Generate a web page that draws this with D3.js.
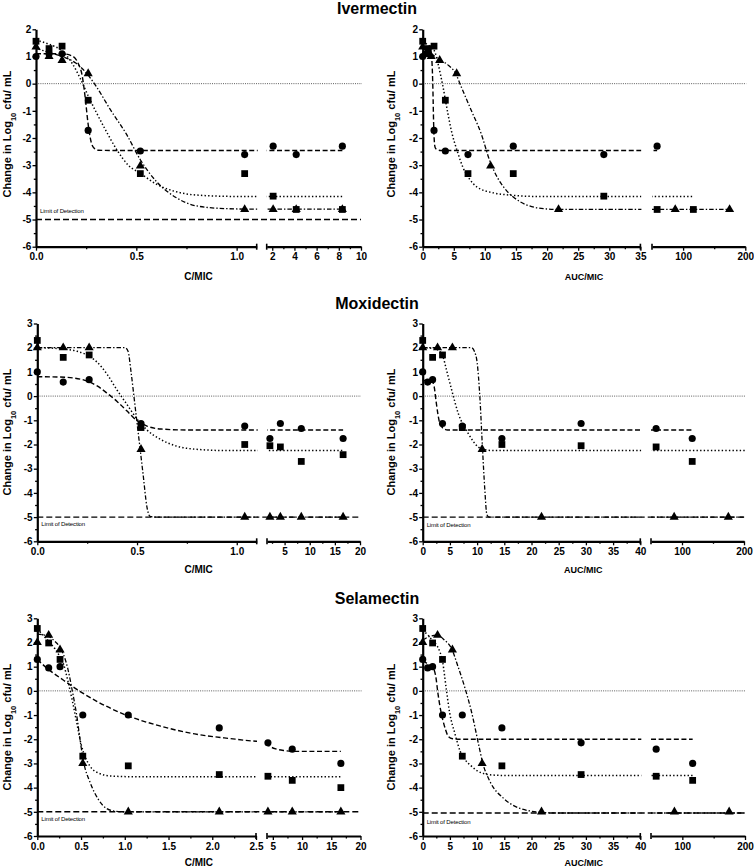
<!DOCTYPE html>
<html>
<head>
<meta charset="utf-8">
<script src="https://cdn.jsdelivr.net/npm/d3@7"></script>
<style>
  body { margin: 0; background: #fff; }
</style>
</head>
<body>
<div id="chart"></div>
<script>
// ---------- values ----------
const drugNames = ["Ivermectin", "Moxidectin", "Selamectin"];

// Ivermectin: x values, y values (Change in Log10 cfu/mL)
const ivCmic = [0, 0.065, 0.13, 0.26, 0.52, 1.04, 2.08, 4.16, 8.32];
const ivAucCircle = [0, 0.46, 0.91, 1.82, 3.64, 7.28, 14.56, 29.12, 58.24];
const ivAucSquare = [0, 0.91, 1.82, 3.64, 7.28, 14.56, 29.12, 58.24, 116.48];
const ivAucTriangle = [0, 1.37, 2.73, 5.46, 10.92, 21.84, 43.68, 87.36, 174.72];
const ivCircle = [1.0, 1.1, 1.1, -1.72, -2.48, -2.61, -2.3, -2.61, -2.3];
const ivSquare = [1.56, 1.29, 1.38, -0.61, -3.31, -3.31, -4.14, -4.63, -4.63];
const ivTriangle = [1.35, 1.0, 0.86, 0.37, -3.03, -4.63, -4.63, -4.63, -4.63];

// Moxidectin / Selamectin share the same exposures
const cmic = [0, 0.13, 0.26, 0.52, 1.04, 2.08, 4.16, 8.32, 16.64];
const aucCircle = [0, 0.91, 1.82, 3.64, 7.28, 14.56, 29.12, 58.24, 116.48];
const aucSquare = [0, 1.82, 3.64, 7.28, 14.56, 29.12, 58.24, 116.48, 232.96];
const aucTriangle = [0, 2.73, 5.46, 10.92, 21.84, 43.68, 87.36, 174.72, 349.44];

const moxCircle = [1.0, 0.58, 0.68, -1.13, -1.24, -1.75, -1.13, -1.34, -1.75];
const moxSquare = [2.3, 1.6, 1.7, -1.3, -2.0, -2.05, -2.1, -2.7, -2.42];
const moxTriangle = [2.0, 2.0, 2.0, -2.2, -5.0, -5.0, -5.0, -5.0, -5.0];

const selCircle = [1.3, 0.95, 1.0, -1.0, -1.0, -1.53, -2.15, -2.41, -3.0];
const selSquare = [2.58, 1.98, 1.3, -2.7, -3.1, -3.46, -3.53, -3.7, -4.0];
const selTriangle = [2.0, 2.3, 1.7, -3.0, -5.0, -5.0, -5.0, -5.0, -5.0];

// fitted curves, knots [x, y]
const ivCFitCircle = [[0,1.1],[0.13,1.1],[0.18,1.02],[0.21,0.75],[0.23,0.3],[0.245,-0.5],[0.26,-1.5],[0.275,-2.15],[0.29,-2.38],[0.31,-2.45],[0.4,-2.46],[8.32,-2.46]];
const ivCFitSquare = [[0,1.6],[0.065,1.45],[0.13,1.2],[0.18,0.75],[0.22,0.2],[0.26,-0.45],[0.3,-1.05],[0.35,-1.75],[0.4,-2.4],[0.46,-3.0],[0.52,-3.3],[0.6,-3.7],[0.7,-3.98],[0.8,-4.1],[1.0,-4.15],[8.32,-4.15]];
const ivCFitTriangle = [[0,1.3],[0.065,1.15],[0.13,1.0],[0.2,0.75],[0.25,0.4],[0.3,-0.1],[0.37,-0.95],[0.45,-1.85],[0.52,-2.8],[0.6,-3.6],[0.7,-4.2],[0.8,-4.5],[0.95,-4.6],[1.1,-4.62],[8.32,-4.62]];
const ivAucFitCircle = [[0,1.15],[1.0,1.12],[1.4,1.0],[1.55,0.5],[1.65,-0.3],[1.75,-1.4],[1.85,-2.05],[2.0,-2.35],[2.3,-2.43],[3.0,-2.46],[58.24,-2.46]];
const ivAucFitSquare = [[0,1.55],[1.0,1.4],[1.9,1.2],[2.45,0.75],[3.25,-0.1],[4.05,-1.1],[4.6,-1.72],[5.65,-2.55],[6.5,-3.1],[7.5,-3.5],[8.7,-3.8],[11.4,-4.02],[14,-4.1],[18,-4.15],[116.48,-4.15]];
const ivAucFitTriangle = [[0,1.3],[1.37,1.1],[2.73,0.88],[4.0,0.7],[5.3,0.37],[6.2,-0.12],[7.8,-0.98],[9.4,-1.84],[10.8,-2.85],[12,-3.45],[13,-3.8],[15.7,-4.35],[19.4,-4.6],[22,-4.63],[174.72,-4.63]];

const moxCFitCircle = [[0,0.8],[0.1,0.79],[0.18,0.75],[0.25,0.62],[0.3,0.42],[0.35,0.12],[0.4,-0.22],[0.45,-0.62],[0.5,-1.02],[0.55,-1.24],[0.62,-1.36],[0.75,-1.4],[16.64,-1.4]];
const moxCFitSquare = [[0,2.0],[0.1,1.97],[0.2,1.85],[0.26,1.65],[0.3,1.4],[0.35,0.9],[0.4,0.25],[0.45,-0.35],[0.5,-0.95],[0.55,-1.4],[0.62,-1.8],[0.7,-2.07],[0.8,-2.2],[0.95,-2.25],[16.64,-2.25]];
const moxCFitTriangle = [[0,2.0],[0.44,2.0],[0.455,1.85],[0.47,1.0],[0.49,-0.4],[0.51,-1.8],[0.53,-3.2],[0.55,-4.6],[0.565,-4.97],[0.6,-5.0],[16.64,-5.0]];
const moxAucFitCircle = [[0,0.65],[1.0,0.65],[1.8,0.6],[2.1,0.4],[2.5,-0.28],[2.8,-0.75],[3.1,-1.1],[3.6,-1.3],[4.6,-1.4],[6,-1.4],[116.48,-1.4]];
const moxAucFitSquare = [[0,2.0],[2.0,1.97],[2.8,1.9],[3.7,1.65],[4.35,1.1],[5.3,0.28],[6.5,-0.69],[8.3,-1.52],[10.2,-2.1],[11.5,-2.22],[13,-2.25],[232.96,-2.25]];
const moxAucFitTriangle = [[0,2.0],[9.0,2.0],[9.5,1.85],[10.0,1.4],[10.5,0],[11.0,-2.2],[11.4,-3.8],[11.8,-4.9],[12.2,-5.0],[349.44,-5.0]];

const selCFitCircle = [[0,1.3],[0.1,0.97],[0.3,0.44],[0.5,-0.05],[0.7,-0.47],[1.0,-0.98],[1.4,-1.45],[1.8,-1.78],[2.2,-1.97],[2.5,-2.08],[4.0,-2.22],[4.5,-2.3],[5.5,-2.4],[7,-2.47],[8.32,-2.5],[16.64,-2.5]];
const selCFitSquare = [[0,2.55],[0.13,2.05],[0.2,1.75],[0.26,1.4],[0.3,1.1],[0.35,0.4],[0.4,-0.4],[0.45,-1.3],[0.5,-2.2],[0.55,-2.75],[0.6,-3.1],[0.7,-3.4],[0.85,-3.52],[1.1,-3.55],[16.64,-3.55]];
const selCFitTriangle = [[0,2.35],[0.13,2.25],[0.2,2.05],[0.26,1.8],[0.3,1.5],[0.35,0.9],[0.4,0.0],[0.45,-1.0],[0.5,-2.3],[0.53,-2.95],[0.6,-3.75],[0.7,-4.5],[0.8,-4.88],[0.9,-4.98],[1.0,-5.0],[16.64,-5.0]];
const selAucFitCircle = [[0,1.25],[1.0,1.1],[1.9,0.95],[2.4,0.6],[2.8,-0.1],[3.3,-0.8],[3.75,-1.25],[4.2,-1.6],[4.7,-1.88],[5.5,-1.98],[6.5,-2.0],[116.48,-2.0]];
const selAucFitSquare = [[0,2.5],[1.0,2.3],[1.9,2.05],[2.8,1.8],[3.7,1.15],[4.35,0.05],[4.95,-0.9],[5.9,-1.75],[6.9,-2.5],[7.8,-2.85],[8.75,-3.07],[10,-3.3],[11.2,-3.42],[13.7,-3.49],[16,-3.5],[116.48,-3.5]];
const selAucFitTriangle = [[0,2.1],[1.3,2.25],[2.7,2.3],[4.0,2.1],[5.3,1.75],[6.5,1.0],[7.7,0.17],[8.9,-0.8],[10.5,-2.45],[11.0,-2.95],[12.4,-3.76],[14.9,-4.45],[17.9,-4.86],[21.8,-5.02],[25,-5.05],[349.44,-5.05]];

// tick values
const yTicks2 = [-6, -5, -4, -3, -2, -1, 0, 1, 2];
const yMinor2 = [-5.5, -4.5, -3.5, -2.5, -1.5, -0.5, 0.5, 1.5];
const yTicks3 = [-6, -5, -4, -3, -2, -1, 0, 1, 2, 3];
const yMinor3 = [-5.5, -4.5, -3.5, -2.5, -1.5, -0.5, 0.5, 1.5, 2.5];
const cTicksShort = [0, 0.5, 1.0], cMinorShort = [0.25, 0.75];
const cTicksLong = [0, 0.5, 1.0, 1.5, 2.0, 2.5], cMinorLong = [0.25, 0.75, 1.25, 1.75, 2.25];
const ivHighTicks = [2, 4, 6, 8, 10], ivHighMinor = [3, 5, 7, 9];
const highTicks = [5, 10, 15, 20], moxHighMinor = [2.5, 7.5, 12.5, 17.5], selHighMinor = [7.5, 12.5, 17.5];
const aucTicks35 = [0, 5, 10, 15, 20, 25, 30, 35], aucMinor35 = [2.5, 7.5, 12.5, 17.5, 22.5, 27.5, 32.5];
const aucTicks40 = [0, 5, 10, 15, 20, 25, 30, 35, 40], aucMinor40 = [2.5, 7.5, 12.5, 17.5, 22.5, 27.5, 32.5, 37.5];
const aucHighTicks = [100, 200], aucHighMinor = [150];
const lodValue = -5;

// ---------- drawing ----------
const FONT = '"Liberation Sans", Arial, Helvetica, sans-serif';
const width = 754, height = 868;

const svg = d3.select("#chart").append("svg")
  .attr("width", width)
  .attr("height", height)
  .style("font-family", FONT);

const fmt1 = d => d.toFixed(1);
const fmtInt = d => String(d);

const lineStyle = {
  circle: { dash: "5,2.6", w: 1.4 },
  square: { dash: "1.4,2.2", w: 1.5 },
  triangle: { dash: "4.5,2,1.4,2", w: 1.3 }
};
const symbols = {
  circle: d3.symbol(d3.symbolCircle, 40),
  square: d3.symbol(d3.symbolSquare, 46),
  triangle: d3.symbol(d3.symbolTriangle, 36)
};

const rows = [
  { title: drugNames[0], titleY: 14, yDomain: [-6, 2], yRange: [246.7, 29.3], yTicks: yTicks2, yMinor: yMinor2, xTitleY: 279.5, yTitleY: 134 },
  { title: drugNames[1], titleY: 308.5, yDomain: [-6, 3], yRange: [541.3, 323.5], yTicks: yTicks3, yMinor: yMinor3, xTitleY: 572.5, yTitleY: 432 },
  { title: drugNames[2], titleY: 603.5, yDomain: [-6, 3], yRange: [836, 618.3], yTicks: yTicks3, yMinor: yMinor3, xTitleY: 865.5, yTitleY: 727 }
];

const panels = [
  { row: 0, axisX: 36, xTitle: "C/MIC", xTitleSize: 10, yTitleX: 11, lod: true, lodDy: -6.5,
    seg1: { domain: [0, 1.1], range: [36, 256.7], major: cTicksShort, minor: cMinorShort, fmt: fmt1 },
    seg2: { domain: [1.5, 10], range: [266.7, 361], major: ivHighTicks, minor: ivHighMinor, fmt: fmtInt },
    series: [
      { shape: "circle", x: ivCmic, y: ivCircle, fit: ivCFitCircle },
      { shape: "triangle", x: ivCmic, y: ivTriangle, fit: ivCFitTriangle },
      { shape: "square", x: ivCmic, y: ivSquare, fit: ivCFitSquare }
    ] },
  { row: 0, axisX: 422.7, xTitle: "AUC/MIC", xTitleSize: 9, yTitleX: 395, lod: false,
    seg1: { domain: [0, 35], range: [422.7, 640.4], major: aucTicks35, minor: aucMinor35, fmt: fmtInt },
    seg2: { domain: [50, 200], range: [652, 745.3], major: aucHighTicks, minor: aucHighMinor, fmt: fmtInt },
    series: [
      { shape: "circle", x: ivAucCircle, y: ivCircle, fit: ivAucFitCircle },
      { shape: "triangle", x: ivAucTriangle, y: ivTriangle, fit: ivAucFitTriangle },
      { shape: "square", x: ivAucSquare, y: ivSquare, fit: ivAucFitSquare }
    ] },
  { row: 1, axisX: 37.3, xTitle: "C/MIC", xTitleSize: 10, yTitleX: 11, lod: true, lodDy: 9,
    seg1: { domain: [0, 1.1], range: [37.3, 256.7], major: cTicksShort, minor: cMinorShort, fmt: fmt1 },
    seg2: { domain: [1.5, 20], range: [267, 360], major: highTicks, minor: moxHighMinor, fmt: fmtInt },
    series: [
      { shape: "circle", x: cmic, y: moxCircle, fit: moxCFitCircle },
      { shape: "triangle", x: cmic, y: moxTriangle, fit: moxCFitTriangle },
      { shape: "square", x: cmic, y: moxSquare, fit: moxCFitSquare }
    ] },
  { row: 1, axisX: 422.7, xTitle: "AUC/MIC", xTitleSize: 9, yTitleX: 395, lod: true, lodDy: 9.5,
    seg1: { domain: [0, 40], range: [422.7, 640.3], major: aucTicks40, minor: aucMinor40, fmt: fmtInt },
    seg2: { domain: [50, 200], range: [651, 744], major: aucHighTicks, minor: aucHighMinor, fmt: fmtInt },
    series: [
      { shape: "circle", x: aucCircle, y: moxCircle, fit: moxAucFitCircle },
      { shape: "triangle", x: aucTriangle, y: moxTriangle, fit: moxAucFitTriangle },
      { shape: "square", x: aucSquare, y: moxSquare, fit: moxAucFitSquare }
    ] },
  { row: 2, axisX: 37.3, xTitle: "C/MIC", xTitleSize: 10, yTitleX: 11, lod: true, lodDy: 9.5,
    seg1: { domain: [0, 2.5], range: [37.3, 256], major: cTicksLong, minor: cMinorLong, fmt: fmt1 },
    seg2: { domain: [4, 20], range: [267, 360.5], major: highTicks, minor: selHighMinor, fmt: fmtInt },
    series: [
      { shape: "circle", x: cmic, y: selCircle, fit: selCFitCircle },
      { shape: "triangle", x: cmic, y: selTriangle, fit: selCFitTriangle },
      { shape: "square", x: cmic, y: selSquare, fit: selCFitSquare }
    ] },
  { row: 2, axisX: 422.7, xTitle: "AUC/MIC", xTitleSize: 9, yTitleX: 395, lod: true, lodDy: 10.5,
    seg1: { domain: [0, 40], range: [422.7, 640.3], major: aucTicks40, minor: aucMinor40, fmt: fmtInt },
    seg2: { domain: [50, 200], range: [651, 745], major: aucHighTicks, minor: aucHighMinor, fmt: fmtInt },
    series: [
      { shape: "circle", x: aucCircle, y: selCircle, fit: selAucFitCircle },
      { shape: "triangle", x: aucTriangle, y: selTriangle, fit: selAucFitTriangle },
      { shape: "square", x: aucSquare, y: selSquare, fit: selAucFitSquare }
    ] }
];

// drug titles
rows.forEach(r => {
  svg.append("text")
    .attr("x", 377).attr("y", r.titleY)
    .attr("text-anchor", "middle")
    .style("font-size", "16px").style("font-weight", "bold")
    .text(r.title);
});

function styleAxis(g, fontSize) {
  g.attr("font-family", null).attr("font-size", null);
  g.selectAll("text")
    .style("font-family", FONT)
    .style("font-size", fontSize + "px")
    .style("font-weight", "bold")
    .attr("fill", "#000");
  g.selectAll(".tick line").attr("stroke", "#000").attr("stroke-width", 1.3);
}

panels.forEach((p, pi) => {
  const r = rows[p.row];
  const y = d3.scaleLinear().domain(r.yDomain).range(r.yRange);
  const axisY = r.yRange[0];
  const segs = [p.seg1, p.seg2].map(s => Object.assign({}, s, {
    scale: d3.scaleLinear().domain(s.domain).range(s.range)
  }));
  const rightEnd = p.seg2.range[1];
  const g = svg.append("g");

  // zero reference line
  g.append("line")
    .attr("x1", p.axisX).attr("x2", rightEnd + 1)
    .attr("y1", y(0)).attr("y2", y(0))
    .attr("stroke", "#333").attr("stroke-width", 0.8)
    .attr("stroke-dasharray", "1,1.2");

  // limit of detection
  if (p.lod) {
    const lodY = y(pi === 5 ? lodValue - 0.05 : lodValue);
    g.append("line")
      .attr("x1", p.axisX).attr("x2", rightEnd)
      .attr("y1", lodY).attr("y2", lodY)
      .attr("stroke", "#000").attr("stroke-width", 1.4)
      .attr("stroke-dasharray", "6,3");
    g.append("text")
      .attr("x", p.axisX + 4).attr("y", lodY + p.lodDy)
      .style("font-size", "6px")
      .style("letter-spacing", "-0.15px")
      .text("Limit of Detection");
  }

  // y axis
  const ya = g.append("g").attr("transform", `translate(${p.axisX},0)`)
    .call(d3.axisLeft(y).tickValues(r.yTicks).tickSize(3.5).tickSizeOuter(0).tickPadding(1.2).tickFormat(fmtInt));
  styleAxis(ya, 10);
  ya.select(".domain").attr("stroke-width", 2.2);
  const ym = g.append("g").attr("transform", `translate(${p.axisX},0)`)
    .call(d3.axisLeft(y).tickValues(r.yMinor).tickSize(2.2).tickFormat(() => ""));
  ym.select(".domain").remove();
  ym.selectAll(".tick line").attr("stroke-width", 1.3);

  // broken x axis
  segs.forEach((s, si) => {
    const xa = g.append("g").attr("transform", `translate(0,${axisY})`)
      .call(d3.axisBottom(s.scale).tickValues(s.major).tickSize(4).tickSizeOuter(0).tickPadding(2.5).tickFormat(s.fmt));
    styleAxis(xa, 10);
    xa.select(".domain").attr("stroke-width", 2.2);
    const xm = g.append("g").attr("transform", `translate(0,${axisY})`)
      .call(d3.axisBottom(s.scale).tickValues(s.minor).tickSize(2.5).tickFormat(() => ""));
    xm.select(".domain").remove();
    xm.selectAll(".tick line").attr("stroke-width", 1.3);
    // break caps
    const capX = si === 0 ? s.range[1] : s.range[0];
    g.append("line")
      .attr("x1", capX).attr("x2", capX)
      .attr("y1", axisY - 3).attr("y2", axisY + 3)
      .attr("stroke", "#000").attr("stroke-width", 1.6);

    // clip for this segment
    svg.append("clipPath").attr("id", `clip-${pi}-${si}`)
      .append("rect")
      .attr("x", si === 0 ? p.axisX - 1 : s.range[0])
      .attr("y", 0)
      .attr("width", (s.range[1] - (si === 0 ? p.axisX - 1 : s.range[0])) + 1)
      .attr("height", height);
  });

  // fitted curves
  p.series.forEach(se => {
    segs.forEach((s, si) => {
      const line = d3.line()
        .x(d => s.scale(d[0]))
        .y(d => y(d[1]))
        .curve(d3.curveMonotoneX);
      g.append("path")
        .attr("clip-path", `url(#clip-${pi}-${si})`)
        .attr("d", line(se.fit))
        .attr("fill", "none")
        .attr("stroke", "#000")
        .attr("stroke-width", lineStyle[se.shape].w)
        .attr("stroke-dasharray", lineStyle[se.shape].dash);
    });
  });

  // data points
  p.series.forEach(se => {
    const pts = se.x.map((xv, i) => ({ x: xv, y: se.y[i] }))
      .map(d => {
        const s = segs.find(s => d.x >= s.domain[0] - 1e-9 && d.x <= s.domain[1] + 1e-9);
        return s ? { px: s.scale(d.x), py: y(d.y) } : null;
      })
      .filter(d => d);
    g.selectAll(null)
      .data(pts)
      .join("path")
      .attr("d", symbols[se.shape])
      .attr("transform", d => `translate(${d.px},${d.py})`)
      .attr("fill", "#000");
  });

  // axis titles
  const xMid = (p.axisX + rightEnd) / 2;
  g.append("text")
    .attr("x", xMid).attr("y", r.xTitleY)
    .attr("text-anchor", "middle")
    .style("font-size", p.xTitleSize + "px").style("font-weight", "bold")
    .text(p.xTitle);

  const yt = g.append("text")
    .attr("transform", `translate(${p.yTitleX},${r.yTitleY}) rotate(-90)`)
    .attr("text-anchor", "middle")
    .style("font-size", "11px").style("font-weight", "bold");
  yt.append("tspan").text("Change in Log");
  yt.append("tspan").attr("baseline-shift", "sub").style("font-size", "7.5px").text("10");
  yt.append("tspan").text(" cfu/ mL");
});
</script>
</body>
</html>
